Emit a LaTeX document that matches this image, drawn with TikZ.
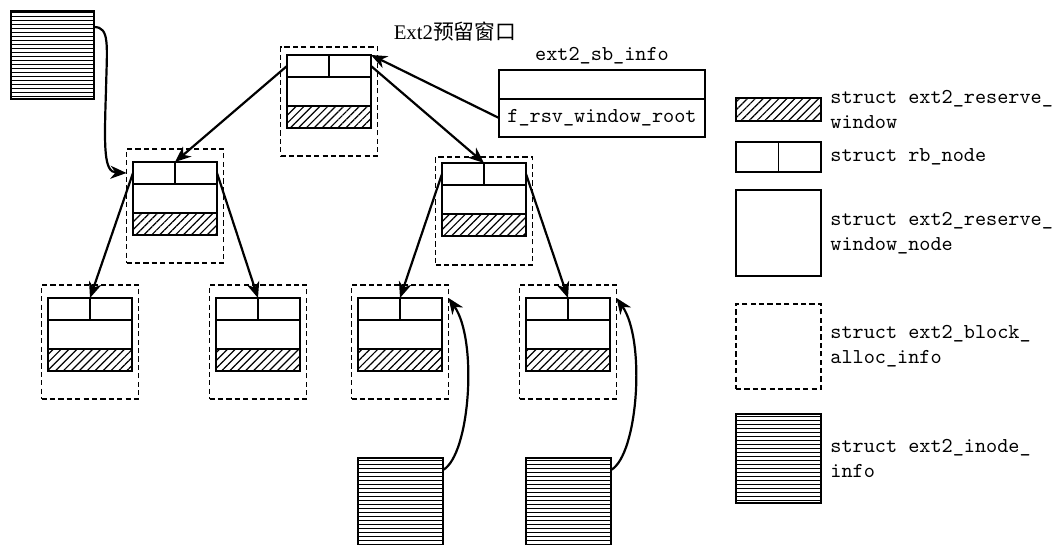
\documentclass[tikz,border=0pt]{standalone}
\usepackage{fontspec}
\setmainfont{Liberation Serif}
\newfontfamily\cjk{Noto Sans CJK SC}
\usetikzlibrary{arrows.meta,patterns.meta,calc}

\tikzset{
 box/.style={draw, line width=0.8pt, inner sep=0pt, outer sep=0pt, anchor=north west},
 rbbox/.style={box, minimum width=42pt, minimum height=11pt},
 midbox/.style={box, minimum width=42pt, minimum height=14.5pt},
 winbox/.style={box, minimum width=42pt, minimum height=11pt,
   pattern={Lines[angle=45,distance=2.8pt,line width=0.6pt]}},
 dashbox/.style={draw, line width=0.65pt, dash pattern=on 2.6pt off 1.6pt, inner sep=0pt,
   outer sep=0pt, anchor=north west, minimum width=48.5pt},
 inodebox/.style={box, minimum width=42.5pt,
   pattern={Lines[angle=0,distance=2pt,line width=0.5pt]}},
 ptr/.style={line width=1.1pt, -{Stealth[length=8pt,width=6.5pt,inset=2.5pt]}},
 mono/.style={font=\ttfamily\fontsize{10.6}{12.5}\selectfont},
 legtext/.style={mono, anchor=west, align=left, inner sep=0pt},
}

\newcommand\rsvnode[5]{%
 \node[dashbox, minimum height=#5] (#1-alloc) at (#2-6.5,#4) {};
 \node[rbbox] (#1-rb) at (#2,#3) {};
 \draw[line width=0.8pt] (#1-rb.north) -- (#1-rb.south);
 \node[midbox] (#1-node) at (#1-rb.south west) {};
 \node[winbox] (#1-win) at (#1-node.south west) {};
}

\begin{document}
\begin{tikzpicture}[x=0.5pt,y=-0.5pt]
\useasboundingbox (0,0) rectangle (1057,545);
\clip (0,0) rectangle (1057,545);

% title
\node[font=\fontsize{10.4}{12}\selectfont, anchor=base, inner sep=0pt] (title) at (455,40) {Ext2{\cjk 预留窗口}};

% tree
\rsvnode{T}{287}{55}{47}{54.5pt}
\rsvnode{ML}{133}{162}{149}{57pt}
\rsvnode{MR}{442}{163}{157}{54pt}
\rsvnode{BA}{48}{298}{285}{57pt}
\rsvnode{BB}{216}{298}{285}{57pt}
\rsvnode{BC}{358}{298}{285}{57pt}
\rsvnode{BD}{526}{298}{285}{57pt}

% ext2_sb_info
\node[box, minimum width=103pt, minimum height=14.5pt] (sbtop) at (499,70) {};
\node[box, minimum width=103pt, minimum height=19pt, mono] (sbroot) at (sbtop.south west) {f\_rsv\_window\_root};
\node[mono, anchor=base, inner sep=0pt] (sblabel) at (602,61) {ext2\_sb\_info};

% inode infos
\node[inodebox, minimum width=41.5pt, minimum height=44pt] (I0) at (11,11) {};
\node[inodebox, minimum height=47.5pt] (I1) at (358,458) {};
\node[inodebox, minimum height=47.5pt] (I2) at (526,458) {};

% tree pointers
\draw[ptr] (T-rb.west) -- (ML-rb.north);
\draw[ptr] (T-rb.east) -- (MR-rb.north);
\draw[ptr] (sbroot.west) -- (T-rb.north east);
\draw[ptr] (ML-rb.west) -- (BA-rb.north);
\draw[ptr] (ML-rb.east) -- (BB-rb.north);
\draw[ptr] (MR-rb.west) -- (BC-rb.north);
\draw[ptr] (MR-rb.east) -- (BD-rb.north);

% inode pointers
\coordinate (I0out) at ($(I0.north east)+(0,16)$);
\draw[ptr] (I0out) .. controls (110,27) and (107,45) .. (106,90)
  .. controls (104,150) and (104,172) .. (ML-alloc.west |- ML-rb.west);
\coordinate (I1out) at ($(I1.north east)+(0,12)$);
\draw[ptr] (I1out) .. controls (470,455) and (478,340) .. (BC-alloc.east |- BC-rb.north);
\coordinate (I2out) at ($(I2.north east)+(0,12)$);
\draw[ptr] (I2out) .. controls (638,455) and (646,340) .. (BD-alloc.east |- BD-rb.north);

% legend
\node[winbox, minimum width=42.5pt, minimum height=11.5pt] (Lwin) at (736,98) {};
\node[legtext] (Ltwin) at ($(Lwin.east)+(9,0)$) {struct ext2\_reserve\_\\window};
\node[rbbox, minimum width=42.5pt, minimum height=15pt] (Lrb) at (736,142) {};
\draw[line width=0.8pt] (Lrb.north) -- (Lrb.south);
\node[legtext] (Ltrb) at ($(Lrb.east)+(9,0)$) {struct rb\_node};
\node[box, minimum width=42.5pt, minimum height=43pt] (Lnode) at (736,190) {};
\node[legtext] (Ltnode) at ($(Lnode.east)+(9,0)$) {struct ext2\_reserve\_\\window\_node};
\node[dashbox, minimum width=42.5pt, minimum height=42.5pt] (Lalloc) at (736,304) {};
\node[legtext] (Ltalloc) at ($(Lalloc.east)+(9,0)$) {struct ext2\_block\_\\alloc\_info};
\node[inodebox, minimum width=42.5pt, minimum height=44.5pt] (Linode) at (736,414) {};
\node[legtext] (Ltinode) at ($(Linode.east)+(9,0)$) {struct ext2\_inode\_\\info};
\end{tikzpicture}
\end{document}
